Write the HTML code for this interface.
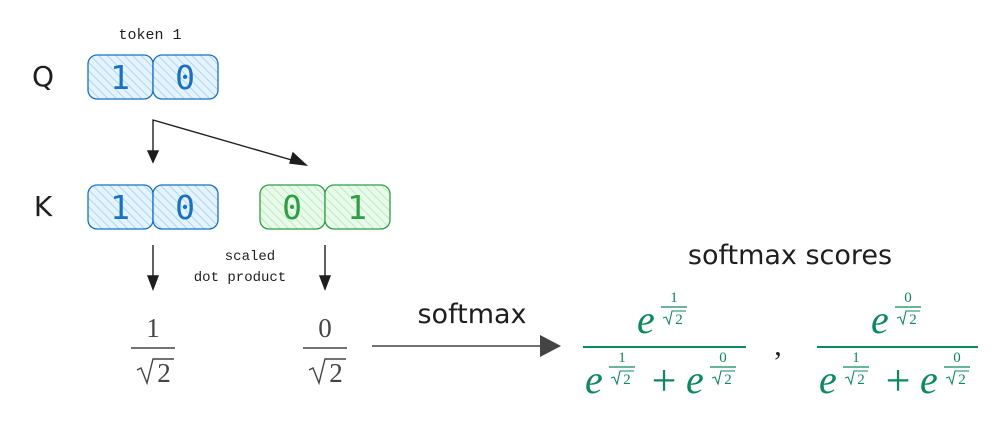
<!DOCTYPE html>
<html><head><meta charset="utf-8"><style>
html,body{margin:0;padding:0;background:#fff;}
svg{display:block}
.m{font-family:"Liberation Mono",monospace}
.d{font-family:"DejaVu Sans Mono",monospace}
.s{font-family:"Liberation Serif",serif}
</style></head><body>
<svg width="1000" height="421" viewBox="0 0 1000 421" xmlns="http://www.w3.org/2000/svg">
<defs>
<pattern id="hb" width="6" height="6" patternUnits="userSpaceOnUse" patternTransform="rotate(-45)">
<rect width="6" height="6" fill="#e7f3fc"/><line x1="0" y1="0" x2="0" y2="6" stroke="#a5d8ff" stroke-width="2"/></pattern>
<pattern id="hg" width="6" height="6" patternUnits="userSpaceOnUse" patternTransform="rotate(-45)">
<rect width="6" height="6" fill="#ebf9ec"/><line x1="0" y1="0" x2="0" y2="6" stroke="#b2f2bb" stroke-width="2"/></pattern>
<g id="ex1" fill="#0c8a5a">
<text x="0" y="0" class="s" font-size="40" font-style="italic">e</text>
<text x="37" y="-31" class="s" font-size="15" text-anchor="middle">1</text>
<line x1="24" y1="-26" x2="50" y2="-26" stroke="#0c8a5a" stroke-width="1.3"/>
<path d="M26,-15 L29,-16 L32,-9 L35,-22 L49,-22" fill="none" stroke="#0c8a5a" stroke-width="1.1"/>
<text x="42" y="-9" class="s" font-size="15" text-anchor="middle">2</text>
</g>
<g id="ex0" fill="#0c8a5a">
<text x="0" y="0" class="s" font-size="40" font-style="italic">e</text>
<text x="37" y="-31" class="s" font-size="15" text-anchor="middle">0</text>
<line x1="24" y1="-26" x2="50" y2="-26" stroke="#0c8a5a" stroke-width="1.3"/>
<path d="M26,-15 L29,-16 L32,-9 L35,-22 L49,-22" fill="none" stroke="#0c8a5a" stroke-width="1.1"/>
<text x="42" y="-9" class="s" font-size="15" text-anchor="middle">2</text>
</g>
</defs>

<text x="150" y="39" class="m" font-size="15" text-anchor="middle" fill="#1e1e1e">token 1</text>
<text x="43" y="86" font-family="DejaVu Sans, sans-serif" font-size="28" text-anchor="middle" fill="#1e1e1e">Q</text>
<text x="43" y="216" font-family="DejaVu Sans, sans-serif" font-size="28" text-anchor="middle" fill="#1e1e1e">K</text>

<g stroke="#1971c2" stroke-width="1.3" fill="url(#hb)">
<rect x="88" y="55" width="65" height="44" rx="9"/>
<rect x="153" y="55" width="65" height="44" rx="9"/>
<rect x="88" y="185" width="65" height="44" rx="9"/>
<rect x="153" y="185" width="65" height="44" rx="9"/>
</g>
<g stroke="#2f9e44" stroke-width="1.3" fill="url(#hg)">
<rect x="260" y="185" width="65" height="44" rx="9"/>
<rect x="325" y="185" width="65" height="44" rx="9"/>
</g>
<g class="d" font-size="33" text-anchor="middle">
<text x="120" y="89" fill="#1971c2">1</text>
<text x="185" y="89" fill="#1971c2">0</text>
<text x="120" y="219" fill="#1971c2">1</text>
<text x="185" y="219" fill="#1971c2">0</text>
<text x="292" y="219" fill="#2f9e44">0</text>
<text x="357" y="219" fill="#2f9e44">1</text>
</g>

<g stroke="#1e1e1e" stroke-width="1.4" fill="#1e1e1e">
<polyline points="153,162 153,120 302,163" fill="none"/>
<polygon points="148,151 158,151 153,162"/>
<polygon points="306,165 293,153 290,163"/>
<line x1="153" y1="245" x2="153" y2="280"/>
<polygon points="148,276 158,276 153,289"/>
<line x1="325" y1="245" x2="325" y2="280"/>
<polygon points="320,276 330,276 325,289"/>
</g>
<text x="250" y="260" class="m" font-size="14" text-anchor="middle" fill="#1e1e1e">scaled</text>
<text x="240" y="281" class="m" font-size="14" text-anchor="middle" fill="#1e1e1e">dot product</text>

<g fill="#444" class="s">
<text x="153" y="337" font-size="27" text-anchor="middle">1</text>
<line x1="131" y1="348" x2="175" y2="348" stroke="#444" stroke-width="1.4"/>
<path d="M137,370 L141,368 L147,383 L153,359 L174,359" fill="none" stroke="#444" stroke-width="1.4"/>
<text x="164" y="382" font-size="27" text-anchor="middle">2</text>
<text x="325" y="337" font-size="27" text-anchor="middle">0</text>
<line x1="303" y1="348" x2="347" y2="348" stroke="#444" stroke-width="1.4"/>
<path d="M309,370 L313,368 L319,383 L325,359 L346,359" fill="none" stroke="#444" stroke-width="1.4"/>
<text x="336" y="382" font-size="27" text-anchor="middle">2</text>
</g>

<line x1="372" y1="346" x2="542" y2="346" stroke="#444" stroke-width="1.6"/>
<polygon points="540,335 561,346 540,357" fill="#444"/>
<text x="472" y="323" font-family="DejaVu Sans, sans-serif" font-size="27" text-anchor="middle" fill="#1e1e1e">softmax</text>
<text x="790" y="264" font-family="DejaVu Sans, sans-serif" font-size="27" text-anchor="middle" fill="#1e1e1e">softmax scores</text>

<line x1="583" y1="347" x2="746" y2="347" stroke="#0c8a5a" stroke-width="2"/>
<use href="#ex1" x="637" y="333"/>
<use href="#ex1" x="585" y="393"/>
<text x="664" y="395" class="s" font-size="44" text-anchor="middle" fill="#0c8a5a">+</text>
<use href="#ex0" x="686" y="393"/>
<text x="778" y="355" class="s" font-size="30" text-anchor="middle" fill="#1e1e1e">,</text>
<line x1="817" y1="347" x2="978" y2="347" stroke="#0c8a5a" stroke-width="2"/>
<use href="#ex0" x="871" y="333"/>
<use href="#ex1" x="819" y="393"/>
<text x="898" y="395" class="s" font-size="44" text-anchor="middle" fill="#0c8a5a">+</text>
<use href="#ex0" x="920" y="393"/>
</svg>
</body></html>
